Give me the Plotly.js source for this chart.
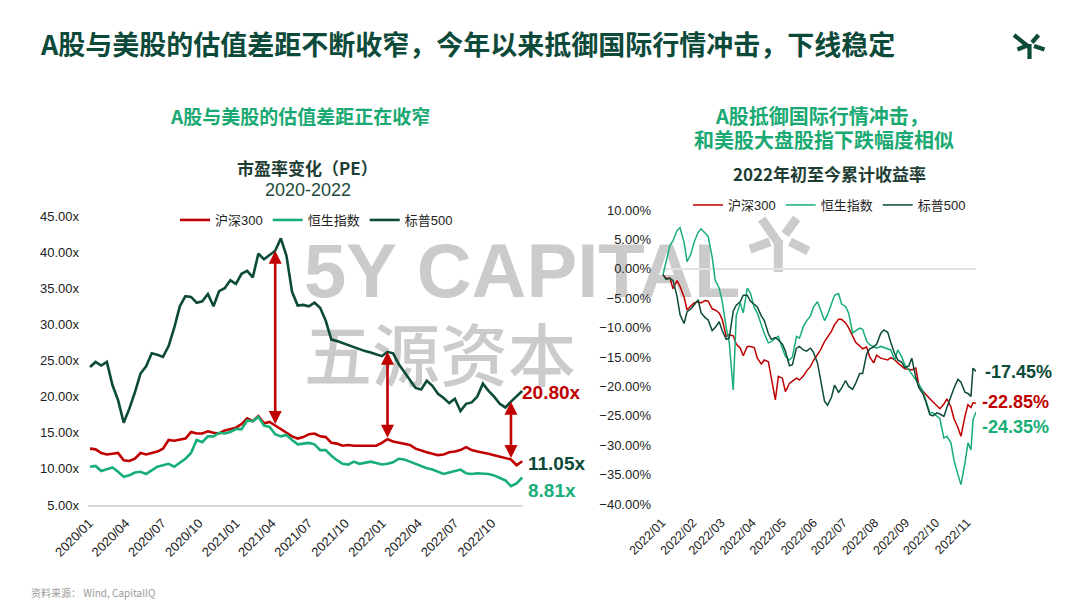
<!DOCTYPE html>
<html>
<head>
<meta charset="utf-8">
<script src="https://cdn.plot.ly/plotly-3.0.1.min.js"></script>
<style>
  html, body { margin: 0; padding: 0; background: #ffffff; }
  #wrap { position: relative; width: 1080px; height: 608px; }
  #bg, #chart { position: absolute; left: 0; top: 0; width: 1080px; height: 608px; }
</style>
</head>
<body>
<div id="wrap">
  <div id="bg"></div>
  <div id="chart"></div>
</div>
<script>
// ---------------- Left chart: PE ratio 2020-2022 (bi-weekly) ----------------
const peDates = [
  '2020-01-03','2020-01-17','2020-01-31','2020-02-14','2020-02-28','2020-03-13','2020-03-27','2020-04-10','2020-04-24','2020-05-08',
  '2020-05-22','2020-06-05','2020-06-19','2020-07-03','2020-07-17','2020-07-31','2020-08-14','2020-08-28','2020-09-11','2020-09-25',
  '2020-10-09','2020-10-23','2020-11-06','2020-11-20','2020-12-04','2020-12-18',
  '2021-01-01','2021-01-15','2021-01-29','2021-02-12','2021-02-26','2021-03-12','2021-03-26','2021-04-09','2021-04-23','2021-05-07',
  '2021-05-21','2021-06-04','2021-06-18','2021-07-02','2021-07-16','2021-07-30','2021-08-13','2021-08-27','2021-09-10','2021-09-24',
  '2021-10-08','2021-10-22','2021-11-05','2021-11-19','2021-12-03','2021-12-17','2021-12-31',
  '2022-01-14','2022-01-28','2022-02-11','2022-02-25','2022-03-11','2022-03-25','2022-04-08','2022-04-22','2022-05-06','2022-05-20',
  '2022-06-03','2022-06-17','2022-07-01','2022-07-15','2022-07-29','2022-08-12','2022-08-26','2022-09-09','2022-09-23','2022-10-07',
  '2022-10-21','2022-11-04','2022-11-18','2022-12-02','2022-12-16'
];
const pe_csi300 = [
  12.8,12.7,12.2,12.0,12.1,12.2,11.2,11.1,11.4,12.2,
  12.0,12.2,12.4,12.8,14.0,13.9,14.1,14.2,15.1,14.9,
  14.9,15.2,15.0,14.9,15.3,15.5,15.7,16.2,17.0,16.6,
  17.3,16.3,16.5,16.0,15.5,15.0,14.5,14.2,14.4,14.8,
  14.9,14.5,14.4,13.6,13.5,13.2,13.3,13.2,13.2,13.3,
  13.3,13.2,13.6,14.1,13.8,13.6,13.5,13.3,12.8,12.5,
  12.3,12.1,11.9,12.0,12.3,12.4,12.6,13.0,12.6,12.4,
  12.3,12.1,11.9,11.7,11.5,11.3,10.5,11.05
];
const pe_hsi = [
  10.3,10.4,9.7,10.0,10.2,9.6,8.9,9.1,9.5,9.6,
  9.3,9.8,10.3,10.5,10.7,10.3,10.8,11.4,12.2,14.0,
  13.7,14.5,14.5,15.0,14.9,15.1,15.5,15.5,16.7,16.6,
  17.2,16.0,15.8,14.8,14.5,14.7,14.0,13.4,13.5,13.6,
  13.4,12.6,12.6,11.8,11.2,10.7,10.6,11.0,10.7,10.9,
  11.0,10.8,10.6,10.7,10.9,11.4,11.3,11.0,10.7,10.3,
  10.1,9.9,9.6,9.3,9.5,9.7,9.9,9.4,9.3,9.4,
  9.4,9.3,9.1,8.8,8.4,7.6,8.0,8.81
];
const pe_spx = [
  24.1,24.8,24.3,24.8,21.6,19.5,16.4,18.3,20.6,23.2,
  24.2,26.0,25.8,25.5,27.0,29.5,32.5,33.9,33.8,33.0,
  33.2,34.2,32.5,34.6,35.0,36.1,35.6,37.0,37.4,36.5,
  39.8,39.0,39.6,40.2,41.9,39.5,34.5,32.6,32.7,32.5,
  33.0,32.3,30.5,27.9,27.7,27.4,27.2,26.9,26.5,26.3,
  26.1,25.8,25.6,26.2,26.0,24.5,23.4,22.2,21.2,21.0,
  22.2,21.5,20.4,19.8,19.1,19.7,18.0,19.0,19.2,20.0,
  21.8,20.8,20.0,19.0,18.5,19.3,20.1,20.8
];
const peTickVals = ['2020-01-01','2020-04-01','2020-07-01','2020-10-01','2021-01-01','2021-04-01',
                    '2021-07-01','2021-10-01','2022-01-01','2022-04-01','2022-07-01','2022-10-01'];
const peTickText = ['2020/01','2020/04','2020/07','2020/10','2021/01','2021/04',
                    '2021/07','2021/10','2022/01','2022/04','2022/07','2022/10'];
const gapArrowIdx = [33, 53, 75];

// ---------------- Right chart: 2022 YTD returns (%) ----------------
const ytdDates = [
  '2022-01-02','2022-01-05','2022-01-09','2022-01-12','2022-01-16','2022-01-19','2022-01-23','2022-01-26','2022-01-30',
  '2022-02-02','2022-02-06','2022-02-09','2022-02-13','2022-02-16','2022-02-20','2022-02-23','2022-02-27',
  '2022-03-02','2022-03-06','2022-03-09','2022-03-13','2022-03-16','2022-03-20','2022-03-23','2022-03-27','2022-03-30',
  '2022-04-03','2022-04-06','2022-04-10','2022-04-13','2022-04-17','2022-04-20','2022-04-24','2022-04-27',
  '2022-05-01','2022-05-04','2022-05-08','2022-05-11','2022-05-15','2022-05-18','2022-05-22','2022-05-25','2022-05-29',
  '2022-06-01','2022-06-05','2022-06-08','2022-06-12','2022-06-15','2022-06-19','2022-06-22','2022-06-26','2022-06-29',
  '2022-07-03','2022-07-06','2022-07-10','2022-07-13','2022-07-17','2022-07-20','2022-07-24','2022-07-27','2022-07-31',
  '2022-08-03','2022-08-07','2022-08-10','2022-08-14','2022-08-17','2022-08-21','2022-08-24','2022-08-28','2022-08-31',
  '2022-09-04','2022-09-07','2022-09-11','2022-09-14','2022-09-18','2022-09-21','2022-09-25','2022-09-28',
  '2022-10-02','2022-10-05','2022-10-09','2022-10-12','2022-10-16','2022-10-19','2022-10-23','2022-10-26','2022-10-30',
  '2022-11-02','2022-11-05','2022-11-07','2022-11-10'
];
const ret_csi300 = [
  -1.0,-1.6,-1.6,-3.4,-2.0,-3.0,-4.8,-7.0,-6.3,
  -5.8,-5.6,-5.8,-5.4,-5.5,-6.8,-7.0,-7.5,
  -8.6,-11.5,-11.2,-11.4,-12.8,-13.5,-14.8,-13.2,-13.2,
  -13.4,-15.2,-16.2,-15.5,-15.8,-18.5,-22.3,-18.3,
  -18.6,-20.9,-19.5,-19.1,-18.6,-18.9,-18.2,-17.4,-16.6,
  -15.6,-14.5,-13.8,-12.4,-11.6,-10.6,-9.5,-8.6,-8.6,
  -9.2,-10.0,-11.6,-12.5,-13.1,-13.6,-13.3,-15.0,-16.0,
  -14.7,-15.2,-15.3,-15.5,-15.1,-15.5,-16.0,-16.6,-17.0,
  -17.1,-17.2,-16.9,-19.8,-20.8,-21.4,-22.1,-22.6,
  -23.3,-23.8,-23.0,-22.1,-23.5,-25.5,-27.0,-28.5,-25.1,
  -23.1,-23.6,-22.8,-22.85
];
const ret_hsi = [
  -1.0,1.0,4.0,4.8,6.5,7.0,4.5,1.2,2.6,
  4.5,6.2,6.8,6.0,5.5,2.0,-1.9,-3.3,
  -5.5,-10.0,-12.5,-20.6,-8.0,-5.8,-7.5,-3.3,-4.1,
  -6.6,-7.5,-9.5,-11.0,-12.6,-12.4,-11.8,-11.5,
  -13.5,-14.9,-15.5,-15.0,-11.5,-11.8,-9.8,-8.9,-8.0,
  -6.5,-5.6,-7.0,-8.8,-7.8,-5.8,-4.5,-4.2,-6.0,
  -6.4,-7.5,-10.9,-10.6,-10.1,-10.3,-12.3,-12.9,-13.3,
  -13.5,-13.2,-13.4,-13.6,-13.8,-15.5,-13.8,-15.0,-16.3,
  -17.2,-17.9,-18.9,-19.6,-20.8,-22.3,-24.5,-24.5,
  -25.0,-25.5,-28.8,-28.5,-29.6,-32.5,-35.0,-36.7,-33.0,
  -29.6,-30.8,-25.7,-24.35
];
const ret_spx = [
  -1.0,-1.8,-1.6,-2.0,-4.7,-7.8,-9.3,-7.3,-6.8,
  -6.2,-5.3,-7.5,-8.3,-8.7,-10.5,-10.0,-9.0,
  -10.5,-12.0,-11.8,-7.2,-6.2,-5.6,-4.5,-4.5,-5.5,
  -6.0,-6.5,-8.0,-8.8,-11.0,-12.0,-11.7,-12.1,
  -12.8,-14.0,-16.5,-16.3,-13.5,-13.2,-13.8,-14.0,-13.5,
  -14.2,-16.0,-19.0,-22.5,-23.2,-21.8,-19.8,-21.0,-20.3,
  -19.0,-20.0,-20.5,-19.5,-17.8,-17.8,-14.5,-13.6,-13.3,
  -12.8,-11.0,-10.4,-10.8,-12.5,-14.5,-15.5,-15.9,-16.8,
  -16.5,-15.2,-18.5,-20.2,-21.2,-22.6,-24.8,-25.0,
  -24.5,-24.7,-25.1,-23.6,-21.7,-20.3,-18.8,-19.3,-21.0,
  -21.2,-21.7,-16.9,-17.45
];
const ytdTickVals = ['2022-01-01','2022-02-01','2022-03-01','2022-04-01','2022-05-01','2022-06-01',
                     '2022-07-01','2022-08-01','2022-09-01','2022-10-01','2022-11-01'];
const ytdTickText = ['2022/01','2022/02','2022/03','2022/04','2022/05','2022/06',
                     '2022/07','2022/08','2022/09','2022/10','2022/11'];

const seriesNames = ['沪深300', '恒生指数', '标普500'];

// ---------------- Styles ----------------
const C_RED = '#c00000', C_GREEN = '#17ae78', C_DARK = '#0c4a39', C_TITLE = '#0d4a3a', C_SUB = '#1aa972';
const LATIN = 'Liberation Sans, Arial, Noto Sans CJK SC, sans-serif';
const CJK = 'Noto Sans CJK SC, sans-serif';
const W = 1080, H = 608;
const px = v => v / W, py = v => 1 - v / H;
const last = a => a[a.length - 1];

// ---------------- Background plot (watermark, drawn beneath the lines) ----------------
const wmColor = '#cbcbcb';
const wmSegs = [
  [761.7,219,780,245],[778.3,240,778.3,272],[796.7,218.3,785,234.3],[750,249.3,770,241.7],[790,241.7,808.3,251]
];
Plotly.newPlot('bg', [], {
  width: W, height: H, margin: {l:0,r:0,t:0,b:0},
  paper_bgcolor: '#ffffff', plot_bgcolor: '#ffffff',
  xaxis: {visible: false}, yaxis: {visible: false},
  annotations: [
    {xref:'paper', yref:'paper', x: px(302), y: py(270), xanchor:'left', yanchor:'middle', showarrow:false,
     text:'<b>5Y CAPITAL</b>', font:{family: LATIN, size: 76, color: wmColor}},
    {xref:'paper', yref:'paper', x: px(302), y: py(351), xanchor:'left', yanchor:'middle', showarrow:false,
     text:'五源资本', font:{family: CJK, size: 68, color: wmColor, weight: 500}}
  ],
  shapes: wmSegs.map(s => ({type:'line', xref:'paper', yref:'paper', x0:px(s[0]), y0:py(s[1]), x1:px(s[2]), y1:py(s[3]),
                            line:{color: wmColor, width: 9}}))
}, {staticPlot: true, displayModeBar: false});

// ---------------- Main chart ----------------
const traces = [
  {x: peDates, y: pe_csi300, name: seriesNames[0], type:'scatter', mode:'lines', line:{color:C_RED, width:2.6}, xaxis:'x', yaxis:'y', legend:'legend'},
  {x: peDates, y: pe_hsi, name: seriesNames[1], type:'scatter', mode:'lines', line:{color:C_GREEN, width:2.6}, xaxis:'x', yaxis:'y', legend:'legend'},
  {x: peDates, y: pe_spx, name: seriesNames[2], type:'scatter', mode:'lines', line:{color:C_DARK, width:2.6}, xaxis:'x', yaxis:'y', legend:'legend'},
  {x: ytdDates, y: ret_csi300, name: seriesNames[0], type:'scatter', mode:'lines', line:{color:C_RED, width:1.5}, xaxis:'x2', yaxis:'y2', legend:'legend2'},
  {x: ytdDates, y: ret_hsi, name: seriesNames[1], type:'scatter', mode:'lines', line:{color:C_GREEN, width:1.5}, xaxis:'x2', yaxis:'y2', legend:'legend2'},
  {x: ytdDates, y: ret_spx, name: seriesNames[2], type:'scatter', mode:'lines', line:{color:C_DARK, width:1.5}, xaxis:'x2', yaxis:'y2', legend:'legend2'}
];

const tickFont = {family: LATIN, size: 13, color: '#222222'};
const ann = [];
// Titles
ann.push({xref:'paper', yref:'paper', x: px(38), y: py(43), xanchor:'left', yanchor:'middle', showarrow:false,
  text:'<b>A股与美股的估值差距不断收窄，今年以来抵御国际行情冲击，下线稳定</b>', font:{family:CJK, size:27, color:C_TITLE}});
ann.push({xref:'paper', yref:'paper', x: px(300), y: py(115), xanchor:'center', yanchor:'middle', showarrow:false,
  text:'<b>A股与美股的估值差距正在收窄</b>', font:{family:CJK, size:19, color:C_SUB}});
ann.push({xref:'paper', yref:'paper', x: px(307), y: py(167), xanchor:'center', yanchor:'middle', showarrow:false,
  text:'<b>市盈率变化（PE）</b>', font:{family:CJK, size:17, color:'#1e3d33'}});
ann.push({xref:'paper', yref:'paper', x: px(308), y: py(190), xanchor:'center', yanchor:'middle', showarrow:false,
  text:'2020-2022', font:{family:LATIN, size:18, color:'#1e4a3d'}});
ann.push({xref:'paper', yref:'paper', x: px(822), y: py(115), xanchor:'center', yanchor:'middle', showarrow:false,
  text:'<b>A股抵御国际行情冲击，</b>', font:{family:CJK, size:20, color:C_SUB}});
ann.push({xref:'paper', yref:'paper', x: px(824), y: py(139), xanchor:'center', yanchor:'middle', showarrow:false,
  text:'<b>和美股大盘股指下跌幅度相似</b>', font:{family:CJK, size:20, color:C_SUB}});
ann.push({xref:'paper', yref:'paper', x: px(829), y: py(173), xanchor:'center', yanchor:'middle', showarrow:false,
  text:'<b>2022年初至今累计收益率</b>', font:{family:CJK, size:17, color:'#1e3d33'}});
ann.push({xref:'paper', yref:'paper', x: px(29), y: py(592), xanchor:'left', yanchor:'middle', showarrow:false,
  text:'资料来源： Wind, CapitalIQ', font:{family:CJK, size:10, color:'#9a9a9a'}});

// Gap arrows (between S&P 500 and CSI 300 PE)
gapArrowIdx.forEach(k => {
  ann.push({xref:'x', yref:'y', axref:'x', ayref:'y', x: peDates[k], y: pe_spx[k], ax: peDates[k], ay: pe_csi300[k],
    text:'', showarrow:true, arrowside:'end+start', arrowhead:2, startarrowhead:2, arrowsize:1, startarrowsize:1,
    arrowwidth:2.6, arrowcolor:C_RED, standoff:0, startstandoff:0});
});

// End labels, left chart
const nL = peDates.length - 1;
ann.push({xref:'x', yref:'y', x: peDates[nL], y: last(pe_spx), xanchor:'left', yanchor:'middle', xshift:-2, yshift:-2, showarrow:false,
  text:'<b>' + last(pe_spx).toFixed(2) + 'x</b>', font:{family:LATIN, size:19, color:C_RED}});
ann.push({xref:'x', yref:'y', x: peDates[nL], y: last(pe_csi300), xanchor:'left', yanchor:'middle', xshift:4, yshift:-2, showarrow:false,
  text:'<b>' + last(pe_csi300).toFixed(2) + 'x</b>', font:{family:LATIN, size:19, color:C_DARK}});
ann.push({xref:'x', yref:'y', x: peDates[nL], y: last(pe_hsi), xanchor:'left', yanchor:'middle', xshift:4, yshift:-13, showarrow:false,
  text:'<b>' + last(pe_hsi).toFixed(2) + 'x</b>', font:{family:LATIN, size:19, color:C_GREEN}});

// End labels, right chart
const nR = ytdDates.length - 1;
ann.push({xref:'x2', yref:'y2', x: ytdDates[nR], y: last(ret_spx), xanchor:'left', yanchor:'middle', xshift:7, yshift:-1, showarrow:false,
  text:'<b>' + last(ret_spx).toFixed(2) + '%</b>', font:{family:LATIN, size:18, color:C_DARK}});
ann.push({xref:'x2', yref:'y2', x: ytdDates[nR], y: last(ret_csi300), xanchor:'left', yanchor:'middle', xshift:4, yshift:1, showarrow:false,
  text:'<b>' + last(ret_csi300).toFixed(2) + '%</b>', font:{family:LATIN, size:18, color:C_RED}});
ann.push({xref:'x2', yref:'y2', x: ytdDates[nR], y: last(ret_hsi), xanchor:'left', yanchor:'middle', xshift:4, yshift:-15, showarrow:false,
  text:'<b>' + last(ret_hsi).toFixed(2) + '%</b>', font:{family:LATIN, size:18, color:C_GREEN}});

// Logo (top right)
const logoSegs = [
  [1014,35,1029.5,47.5],[1029.5,44,1029.5,59],[1038.5,35,1032,42.5],[1017.5,49.5,1026,46],[1034,46,1044.5,49.5]
];
const shapes = logoSegs.map(s => ({type:'line', xref:'paper', yref:'paper', x0:px(s[0]), y0:py(s[1]), x1:px(s[2]), y1:py(s[3]),
  line:{color:C_TITLE, width:4.2}}));

const layout = {
  width: W, height: H, margin: {l:0, r:0, t:0, b:0},
  paper_bgcolor: 'rgba(0,0,0,0)', plot_bgcolor: 'rgba(0,0,0,0)',
  showlegend: true,
  xaxis: {
    type:'date', domain:[px(88), px(523)], range:['2019-12-29','2022-12-18'],
    tickmode:'array', tickvals: peTickVals, ticktext: peTickText, tickangle:-45,
    showgrid:false, zeroline:false, showline:true, linecolor:'#d9d9d9', linewidth:1.5, ticks:'',
    tickfont: tickFont, ticklabelstandoff: 4, fixedrange:true
  },
  yaxis: {
    domain:[1 - 505/H, 1 - 216/H], range:[5, 45], dtick:5, tick0:5, tickformat:'.2f', ticksuffix:'x',
    showgrid:false, zeroline:false, showline:false, ticks:'', tickfont: tickFont, ticklabelstandoff: 8, fixedrange:true
  },
  xaxis2: {
    type:'date', domain:[px(662), px(976)], range:['2022-01-01','2022-11-10'], anchor:'y2',
    tickmode:'array', tickvals: ytdTickVals, ticktext: ytdTickText, tickangle:-45,
    showgrid:false, zeroline:false, showline:false, ticks:'',
    tickfont: {family: LATIN, size: 12.5, color:'#222222'}, ticklabelstandoff: 8, fixedrange:true
  },
  yaxis2: {
    domain:[1 - 504/H, 1 - 210/H], range:[-40, 10], dtick:5, tick0:0, tickformat:'.2f', ticksuffix:'%', anchor:'x2',
    showgrid:false, zeroline:true, zerolinecolor:'#e3e3e3', zerolinewidth:1.5, showline:false, ticks:'',
    tickfont: tickFont, ticklabelstandoff: 10, fixedrange:true
  },
  legend: {
    orientation:'h', x: px(175), y: py(220), xanchor:'left', yanchor:'middle',
    font:{family: LATIN + ', ' + CJK, size:13, color:'#222222'}, bgcolor:'rgba(0,0,0,0)', itemwidth:30, tracegroupgap:0
  },
  legend2: {
    orientation:'h', x: px(688), y: py(205), xanchor:'left', yanchor:'middle',
    font:{family: LATIN + ', ' + CJK, size:13, color:'#222222'}, bgcolor:'rgba(0,0,0,0)', itemwidth:30, tracegroupgap:0
  },
  annotations: ann,
  shapes: shapes
};

Plotly.newPlot('chart', traces, layout, {displayModeBar:false, staticPlot:true});
</script>
</body>
</html>
